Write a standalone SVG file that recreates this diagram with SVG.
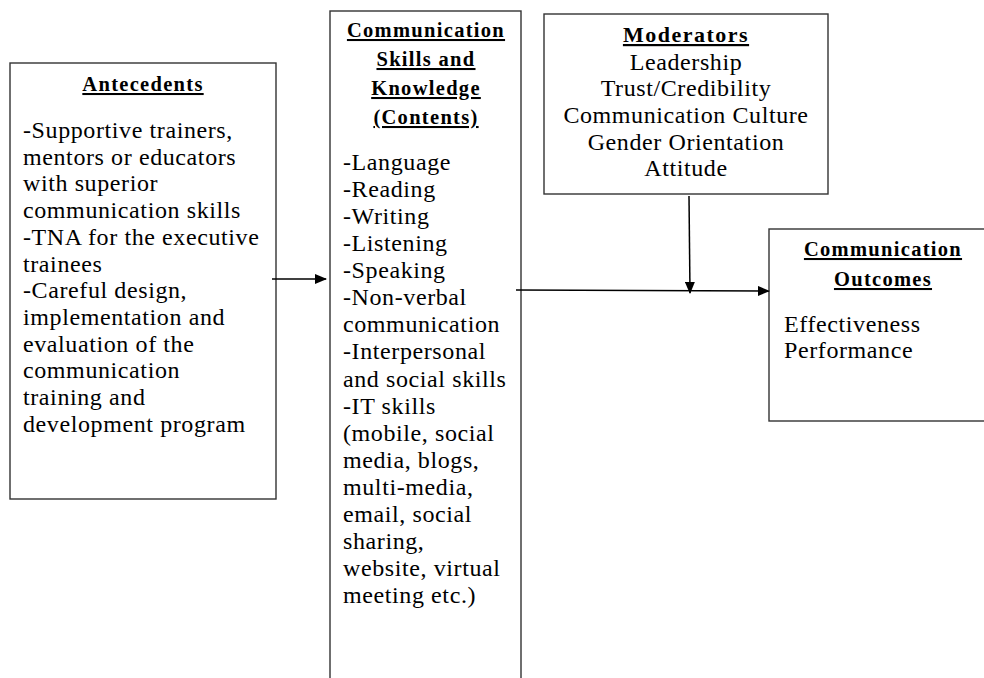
<svg xmlns="http://www.w3.org/2000/svg" width="984" height="678" viewBox="0 0 984 678">
<style>
.box{fill:#fff;stroke:#333;stroke-width:1.4}
.b{font-family:"Liberation Serif","Times New Roman",serif;font-size:24px;letter-spacing:0.6px;fill:#000}
.h{font-family:"Liberation Serif","Times New Roman",serif;font-size:20.5px;font-weight:bold;letter-spacing:1.3px;fill:#000;text-decoration:underline;text-anchor:middle}
.m{font-size:22px;letter-spacing:1.5px}
.c{text-anchor:middle}
.ln{stroke:#000;stroke-width:1.5;fill:none}
</style>
<defs>
<marker id="ah" markerWidth="12" markerHeight="10" refX="11" refY="5" orient="auto" markerUnits="userSpaceOnUse">
<path d="M0,0 L12,5 L0,10 Z" fill="#000"/>
</marker>
</defs>
<rect width="984" height="678" fill="#fff"/>
<g id="antecedents">
<rect class="box" x="10" y="63" width="266" height="436"/>
<text class="h" x="143" y="91">Antecedents</text>
<text class="b" x="23" y="138">-Supportive trainers,</text>
<text class="b" x="23" y="164.7">mentors or educators</text>
<text class="b" x="23" y="191.4">with superior</text>
<text class="b" x="23" y="218.1">communication skills</text>
<text class="b" x="23" y="244.8">-TNA for the executive</text>
<text class="b" x="23" y="271.5">trainees</text>
<text class="b" x="23" y="298.2">-Careful design,</text>
<text class="b" x="23" y="324.9">implementation and</text>
<text class="b" x="23" y="351.6">evaluation of the</text>
<text class="b" x="23" y="378.3">communication</text>
<text class="b" x="23" y="405">training and</text>
<text class="b" x="23" y="431.7">development program</text>
</g>
<g id="skills">
<rect class="box" x="330" y="11" width="191" height="680"/>
<text class="h" x="426" y="37">Communication</text>
<text class="h" x="426" y="66">Skills and</text>
<text class="h" x="426" y="95">Knowledge</text>
<text class="h" x="426" y="124">(Contents)</text>
<text class="b" x="343" y="170">-Language</text>
<text class="b" x="343" y="197.1">-Reading</text>
<text class="b" x="343" y="224.1">-Writing</text>
<text class="b" x="343" y="251.2">-Listening</text>
<text class="b" x="343" y="278.2">-Speaking</text>
<text class="b" x="343" y="305.3">-Non-verbal</text>
<text class="b" x="343" y="332.4">communication</text>
<text class="b" x="343" y="359.4">-Interpersonal</text>
<text class="b" x="343" y="386.5">and social skills</text>
<text class="b" x="343" y="413.5">-IT skills</text>
<text class="b" x="343" y="440.6">(mobile, social</text>
<text class="b" x="343" y="467.7">media, blogs,</text>
<text class="b" x="343" y="494.7">multi-media,</text>
<text class="b" x="343" y="521.8">email, social</text>
<text class="b" x="343" y="548.8">sharing,</text>
<text class="b" x="343" y="575.9">website, virtual</text>
<text class="b" x="343" y="603">meeting etc.)</text>
</g>
<g id="moderators">
<rect class="box" x="544" y="14" width="284" height="180"/>
<text class="h m" x="686" y="42">Moderators</text>
<text class="b c" x="686" y="69.5">Leadership</text>
<text class="b c" x="686" y="96">Trust/Credibility</text>
<text class="b c" x="686" y="123">Communication Culture</text>
<text class="b c" x="686" y="149.5">Gender Orientation</text>
<text class="b c" x="686" y="176">Attitude</text>
</g>
<g id="outcomes">
<rect class="box" x="769" y="229" width="230" height="192"/>
<text class="h" x="883" y="256">Communication</text>
<text class="h" x="883" y="286">Outcomes</text>
<text class="b" x="784" y="332">Effectiveness</text>
<text class="b" x="784" y="358">Performance</text>
</g>
<g id="connectors">
<line class="ln" x1="272" y1="279" x2="326" y2="279" marker-end="url(#ah)"/>
<line class="ln" x1="516" y1="290" x2="769" y2="291" marker-end="url(#ah)"/>
<line class="ln" x1="689" y1="196" x2="690" y2="293" marker-end="url(#ah)"/>
</g>
</svg>
